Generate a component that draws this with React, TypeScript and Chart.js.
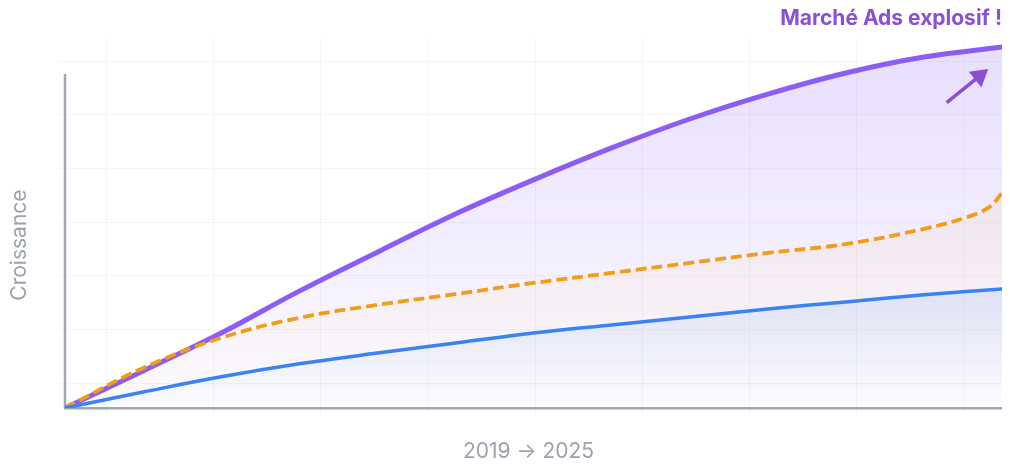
import React, { useEffect, useRef } from 'react';
import { Chart, registerables } from 'chart.js';

Chart.register(...registerables);

// Half-year steps from 2019 to 2025
const years = [2019, 2019.5, 2020, 2020.5, 2021, 2021.5, 2022, 2022.5, 2023, 2023.5, 2024, 2024.5, 2025];

// Growth index (0 at 2019)
const adsMarket = [0, 10.0, 20.2, 31.5, 42.0, 52.3, 61.5, 70.1, 77.9, 84.6, 90.3, 94.6, 97.3];

const ecommerceYears = [2019, 2019.5, 2020, 2020.5, 2021, 2021.5, 2022, 2022.5, 2023, 2023.5, 2024, 2024.5, 2024.78, 2024.92, 2025];
const ecommerce = [0, 10.8, 18.9, 24.3, 27.8, 30.7, 33.7, 36.4, 39.1, 41.8, 44.2, 48.3, 51.5, 54.2, 58.0];

const baseline = [0, 4.3, 8.4, 11.9, 14.8, 17.5, 20.2, 22.4, 24.5, 26.7, 28.6, 30.5, 32.1];

const xMin = 2019;
const xMax = 2025;
const yMin = 0;
const yMax = 100;
const yAxisTop = 90; // visible axis line height (value)

const xTitle = '2019 → 2025';
const yTitle = 'Croissance';
const chartTitle = 'Marché Ads explosif !';

// Annotation arrow: [year, value]
const arrowFrom = [2024.646, 82.3];
const arrowTo = [2024.912, 91.4];

const FONT = 'Inter, "Noto Sans", sans-serif';
const AXIS_COLOR = '#a0a7b4';
const LABEL_COLOR = '#9ca3af';

const toPoints = (xs: number[], ys: number[]) => ys.map((v, i) => ({ x: xs[i], y: v }));

function gradientFill(rgb: string, topAlpha: number, bottomAlpha: number, values: number[]) {
  return (c: any) => {
    const chart = c.chart;
    const area = chart.chartArea;
    if (!area) return `rgba(${rgb},${topAlpha})`;
    const yScale = chart.scales.y;
    const top = Math.min(yScale.getPixelForValue(Math.max(...values)), area.bottom - 1);
    const g = chart.ctx.createLinearGradient(0, top, 0, area.bottom);
    g.addColorStop(0, `rgba(${rgb},${topAlpha})`);
    g.addColorStop(1, `rgba(${rgb},${bottomAlpha})`);
    return g;
  };
}

const decorPlugin = {
  id: 'decor',
  beforeDatasetsDraw(chart: any) {
    const { ctx } = chart;
    const x = chart.scales.x;
    const y = chart.scales.y;
    const px = x.getPixelForValue(xMin);
    ctx.save();
    ctx.strokeStyle = AXIS_COLOR;
    ctx.lineWidth = 2.5;
    ctx.beginPath();
    ctx.moveTo(px, y.getPixelForValue(yAxisTop));
    ctx.lineTo(px, y.getPixelForValue(yMin));
    ctx.stroke();
    ctx.restore();
  },
  afterDatasetsDraw(chart: any) {
    const { ctx, chartArea } = chart;
    const x = chart.scales.x;
    const y = chart.scales.y;

    // axis titles
    const yTop = y.getPixelForValue(yAxisTop);
    const yBot = y.getPixelForValue(yMin);
    ctx.save();
    ctx.fillStyle = LABEL_COLOR;
    ctx.font = `21px ${FONT}`;
    ctx.textAlign = 'center';
    ctx.textBaseline = 'middle';
    ctx.translate(11.5, (yTop + yBot) / 2 + 4);
    ctx.rotate(-Math.PI / 2);
    ctx.fillText(yTitle, 0, 0);
    ctx.restore();

    ctx.save();
    ctx.fillStyle = LABEL_COLOR;
    ctx.font = `21px ${FONT}`;
    ctx.textAlign = 'center';
    ctx.textBaseline = 'middle';
    ctx.fillText(xTitle, (chartArea.left + chartArea.right) / 2 - 5, chartArea.bottom + 44);
    ctx.restore();

    // arrow annotation
    const x1 = x.getPixelForValue(arrowFrom[0]);
    const y1 = y.getPixelForValue(arrowFrom[1]);
    const x2 = x.getPixelForValue(arrowTo[0]);
    const y2 = y.getPixelForValue(arrowTo[1]);
    const ang = Math.atan2(y2 - y1, x2 - x1);
    const headLen = 17;
    const headHalf = 10;
    const bx = x2 - headLen * Math.cos(ang);
    const by = y2 - headLen * Math.sin(ang);
    ctx.save();
    ctx.strokeStyle = '#8b4fd3';
    ctx.fillStyle = '#8b4fd3';
    ctx.lineWidth = 3.5;
    ctx.beginPath();
    ctx.moveTo(x1, y1);
    ctx.lineTo(bx + 2 * Math.cos(ang), by + 2 * Math.sin(ang));
    ctx.stroke();
    ctx.beginPath();
    ctx.moveTo(x2, y2);
    ctx.lineTo(bx + headHalf * Math.sin(ang), by - headHalf * Math.cos(ang));
    ctx.lineTo(bx - headHalf * Math.sin(ang), by + headHalf * Math.cos(ang));
    ctx.closePath();
    ctx.fill();
    ctx.restore();
  },
};

export default function App() {
  const canvasRef = useRef<HTMLCanvasElement | null>(null);

  useEffect(() => {
    if (!canvasRef.current) return;
    const chart = new Chart(canvasRef.current, {
      type: 'line',
      data: {
        datasets: [
          {
            label: 'Référence',
            data: toPoints(years, baseline),
            xAxisID: 'x',
            yAxisID: 'y',
            borderColor: '#3b82f6',
            borderWidth: 3.5,
            backgroundColor: gradientFill('59,130,246', 0.12, 0.0, baseline),
            fill: 'origin',
            tension: 0.4,
            pointRadius: 0,
            borderCapStyle: 'round',
          },
          {
            label: 'E-commerce',
            data: toPoints(ecommerceYears, ecommerce),
            xAxisID: 'x',
            yAxisID: 'y',
            borderColor: '#f29d1a',
            borderWidth: 3.8,
            borderDash: [11, 5],
            backgroundColor: gradientFill('245,158,11', 0.07, 0.0, ecommerce),
            fill: 'origin',
            tension: 0.4,
            pointRadius: 0,
          },
          {
            label: 'Marché Ads',
            data: toPoints(years, adsMarket),
            xAxisID: 'x',
            yAxisID: 'y',
            borderColor: '#8b5cf6',
            borderWidth: 5,
            backgroundColor: gradientFill('139,92,246', 0.2, 0.02, adsMarket),
            fill: 'origin',
            tension: 0.4,
            pointRadius: 0,
            borderCapStyle: 'round',
          },
        ],
      },
      options: {
        responsive: true,
        maintainAspectRatio: false,
        animation: false,
        layout: { padding: 0 },
        plugins: {
          legend: { display: false },
          tooltip: { enabled: false },
          title: {
            display: true,
            text: chartTitle,
            align: 'end',
            color: '#8b4fd6',
            font: { family: FONT, size: 21, weight: 'bold', lineHeight: 1 },
            padding: { top: 0, bottom: 8 },
          },
        },
        scales: {
          gridX: {
            type: 'linear',
            axis: 'x',
            position: 'bottom',
            weight: -1,
            min: -0.39,
            max: 8.36,
            ticks: { display: false, stepSize: 1, includeBounds: false },
            border: { display: false },
            grid: { color: 'rgba(156,163,175,0.1)', lineWidth: 1, tickLength: 8 },
            afterFit: (s: any) => { s.height = 0; },
          },
          gridY: {
            type: 'linear',
            axis: 'y',
            position: 'left',
            weight: -1,
            min: -0.46,
            max: 6.45,
            ticks: { display: false, stepSize: 1, includeBounds: false },
            border: { display: false },
            grid: { color: 'rgba(156,163,175,0.1)', lineWidth: 1, tickLength: 8 },
            afterFit: (s: any) => { s.width = 0; },
          },
          x: {
            type: 'linear',
            position: 'bottom',
            min: xMin,
            max: xMax,
            offset: false,
            ticks: { display: false },
            grid: { display: true, color: 'transparent', drawTicks: false },
            border: { display: true, color: AXIS_COLOR, width: 2.5 },
            afterFit: (s: any) => { s.height = 57; },
          },
          y: {
            type: 'linear',
            position: 'left',
            min: yMin,
            max: yMax,
            ticks: { display: false },
            grid: { display: false },
            border: { display: false },
            afterFit: (s: any) => { s.width = 57; },
          },
        },
      },
      plugins: [decorPlugin],
    } as any);
    return () => chart.destroy();
  }, []);

  return (
    <div style={{ position: 'relative', width: 994, height: 457 }}>
      <canvas ref={canvasRef} />
    </div>
  );
}
